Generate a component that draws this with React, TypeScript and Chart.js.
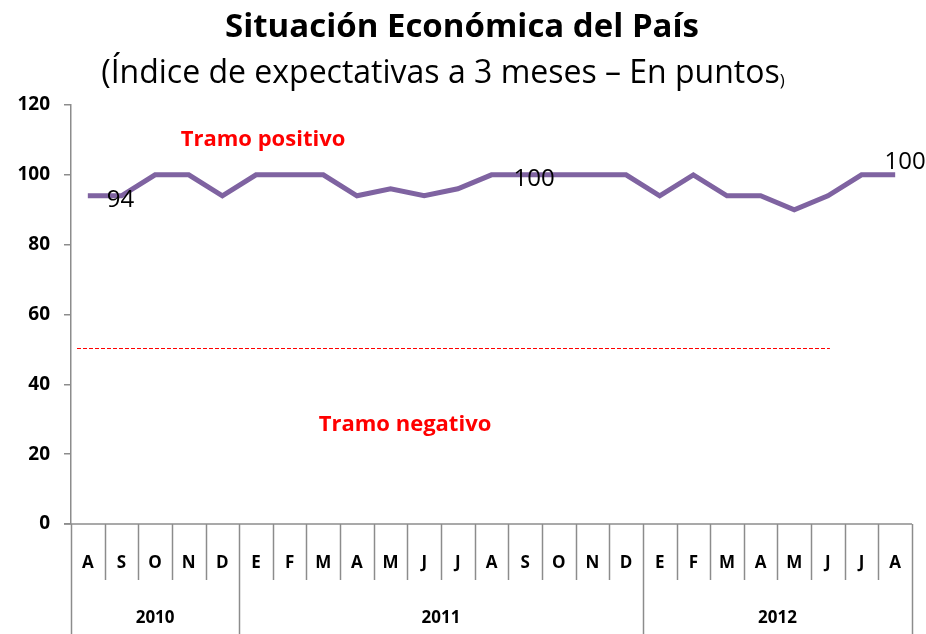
import React, { useEffect, useRef } from "react";
import { Chart, registerables } from "chart.js";

Chart.register(...registerables);

const months = ["A","S","O","N","D","E","F","M","A","M","J","J","A","S","O","N","D","E","F","M","A","M","J","J","A"];
const years = ["2010", "2011", "2012"];
const yearSpans = [5, 12, 8];
const values = [94,94,100,100,94,100,100,100,94,96,94,96,100,100,100,100,100,94,100,94,94,90,94,100,100];
const thresholdValue = 50;
const thresholdEndIndex = 22;
const yTicks = [0, 20, 40, 60, 80, 100, 120];
const title = "Situación Económica del País";
const subtitleMain = "(Índice de expectativas a 3 meses – En puntos";
const subtitleEnd = ")";
const positiveLabel = "Tramo positivo";
const negativeLabel = "Tramo negativo";
const labelIndices = [0, 12, 24];

const FONT = "'Open Sans', 'Noto Sans', sans-serif";
const GRAY = "#8c8c8c";

const customPlugin = {
  id: "custom",
  afterDraw(chart: any) {
    const ctx = chart.ctx as CanvasRenderingContext2D;
    const ca = chart.chartArea;
    const xs = chart.scales.x;
    const ys = chart.scales.y;
    ctx.save();

    // Titles
    ctx.fillStyle = "#000";
    ctx.textBaseline = "middle";
    ctx.textAlign = "center";
    ctx.font = `bold 33px ${FONT}`;
    ctx.fillText(title, 462, 28);
    ctx.font = `32px ${FONT}`;
    const w1 = ctx.measureText(subtitleMain).width;
    ctx.font = `17px ${FONT}`;
    const w2 = ctx.measureText(subtitleEnd).width;
    const sx = 443 - (w1 + w2) / 2;
    ctx.textAlign = "left";
    ctx.font = `32px ${FONT}`;
    ctx.fillText(subtitleMain, sx, 74);
    ctx.font = `17px ${FONT}`;
    ctx.fillText(subtitleEnd, sx + w1, 81);

    // Threshold dashed line
    const ty = Math.round(ys.getPixelForValue(thresholdValue)) - 1;
    ctx.strokeStyle = "#ff0000";
    ctx.lineWidth = 1;
    ctx.setLineDash([4, 2]);
    ctx.beginPath();
    ctx.moveTo(ca.left + 6, ty + 0.5);
    ctx.lineTo(xs.getPixelForValue(thresholdEndIndex) + 2, ty + 0.5);
    ctx.stroke();
    ctx.setLineDash([]);

    // Tramo labels
    ctx.fillStyle = "#ff0000";
    ctx.font = `bold 22px ${FONT}`;
    ctx.textAlign = "center";
    ctx.fillText(positiveLabel, 263, 140);
    ctx.fillText(negativeLabel, 405, 425);

    // Data labels
    ctx.fillStyle = "#000";
    ctx.font = `24px ${FONT}`;
    const offsets: Record<number, [number, number, CanvasTextAlign]> = {
      0: [19, 4, "left"],
      12: [22, 4, "left"],
      24: [10, -13, "center"],
    };
    labelIndices.forEach((i) => {
      const px = xs.getPixelForValue(i);
      const py = ys.getPixelForValue(values[i]);
      const [dx, dy, al] = offsets[i];
      ctx.textAlign = al;
      ctx.fillText(String(values[i]), px + dx, py + dy);
    });

    // Multi-level category axis
    const bottom = ca.bottom;
    const n = months.length;
    const cw = (ca.right - ca.left) / n;
    ctx.strokeStyle = GRAY;
    ctx.lineWidth = 1.5;
    ctx.beginPath();
    ctx.moveTo(ca.left - 7, bottom);
    ctx.lineTo(ca.right, bottom);
    ctx.stroke();
    const yearBounds = new Set<number>();
    let acc = 0;
    yearBounds.add(0);
    yearSpans.forEach((s) => { acc += s; yearBounds.add(acc); });
    for (let k = 0; k <= n; k++) {
      const x = Math.round(ca.left + k * cw) + 0.5;
      ctx.beginPath();
      ctx.moveTo(x, bottom);
      ctx.lineTo(x, yearBounds.has(k) ? 634 : bottom + 56);
      ctx.stroke();
    }
    ctx.fillStyle = "#000";
    ctx.font = `bold 17px ${FONT}`;
    ctx.textAlign = "center";
    months.forEach((m, i) => {
      ctx.fillText(m, ca.left + (i + 0.5) * cw, bottom + 39);
    });
    acc = 0;
    years.forEach((yr, j) => {
      const cx = ca.left + (acc + yearSpans[j] / 2) * cw;
      acc += yearSpans[j];
      ctx.fillText(yr, cx, bottom + 94);
    });
    ctx.restore();
  },
};

export default function App() {
  const ref = useRef<HTMLCanvasElement>(null);
  useEffect(() => {
    document.body.style.margin = "0";
    const chart = new Chart(ref.current!, {
      type: "line",
      data: {
        labels: months,
        datasets: [
          {
            data: values,
            borderColor: "#7f63a1",
            borderWidth: 5,
            pointRadius: 0,
            tension: 0,
            fill: false,
          },
        ],
      },
      options: {
        animation: false,
        responsive: false,
        layout: { padding: { top: 105, right: 14, bottom: 0, left: 0 } },
        plugins: { legend: { display: false }, tooltip: { enabled: false }, title: { display: false } },
        scales: {
          x: {
            type: "category",
            offset: true,
            grid: { display: false },
            border: { display: false },
            ticks: { display: false },
            afterFit: (s: any) => { s.height = 110; },
          },
          y: {
            min: 0,
            max: 120,
            afterBuildTicks: (s: any) => { s.ticks = yTicks.map((v) => ({ value: v })); },
            grid: { drawOnChartArea: false, drawTicks: true, tickLength: 7, color: GRAY, lineWidth: 1.5 },
            border: { display: true, color: GRAY, width: 1.5 },
            ticks: { color: "#000", font: { family: FONT, size: 19, weight: "bold" }, padding: 14 },
            afterFit: (s: any) => { s.width = 71; },
          },
        },
      },
      plugins: [customPlugin],
    });
    return () => chart.destroy();
  }, []);
  return (
    <div style={{ position: "fixed", left: 0, top: 0, width: 926, height: 634 }}>
      <canvas ref={ref} width={926} height={634} style={{ display: "block" }} />
    </div>
  );
}
